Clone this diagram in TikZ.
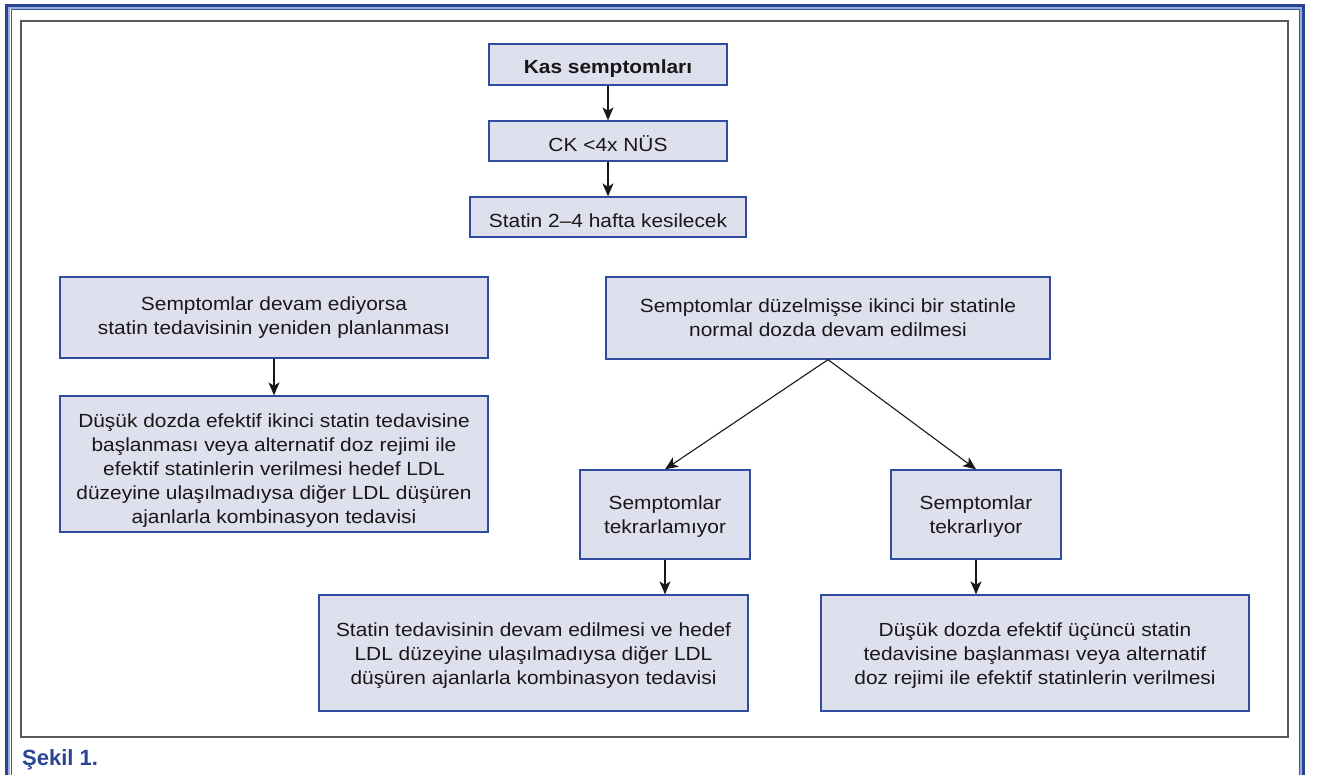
\documentclass[tikz,border=0pt]{standalone}
\usepackage{fontspec}
\setmainfont{Liberation Sans}[FakeStretch=1.1]
\newfontfamily\capfont{Liberation Sans}
\usetikzlibrary{arrows.meta}
\definecolor{boxfill}{HTML}{DFE0EE}
\definecolor{boxline}{HTML}{2F4C9E}
\definecolor{framedark}{HTML}{2A4494}
\definecolor{framelight}{HTML}{9AAEDD}
\definecolor{framethin}{HTML}{3B57A8}
\definecolor{inkgray}{HTML}{1A1718}
\definecolor{captionblue}{HTML}{2B4596}
\tikzset{
  % invisible strut that lifts the top of the text block
  texttop/.style={execute at begin node={\rule{0pt}{#1}}},
  box/.style={draw=boxline, line width=1.3pt, fill=boxfill, align=center,
    inner sep=0pt, text=inkgray, font=\fontsize{19}{24}\selectfont,
    texttop=22pt},
  flow/.style={draw=inkgray, line width=1.1pt,
    -{Stealth[length=13pt,width=11pt,inset=3.5pt]}},
}
\begin{document}
\begin{tikzpicture}[x=1pt,y=-1pt]
\useasboundingbox (0,0) rectangle (1318,775);
\fill[white] (0,0) rectangle (1318,775);

% outer double frame, open at the bottom
\draw[framedark, line width=3.5pt] (6.5,775) -- (6.5,5.5) -- (1303.5,5.5) -- (1303.5,775);
\draw[framelight, line width=1.2pt] (9,775) -- (9,8) -- (1301,8) -- (1301,775);
\draw[framethin, line width=1pt] (11,775) -- (11,10) -- (1299.5,10) -- (1299.5,775);

% inner panel
\draw[black!65, line width=1.5pt] (21,21) rectangle (1288,737);

% boxes
\node[box, minimum width=238pt, minimum height=41pt] (kas) at (608,64.5)
  {\textbf{Kas semptomları}};
\node[box, minimum width=238pt, minimum height=40pt] (ck) at (608,141)
  {CK <4x NÜS};
\node[box, minimum width=276pt, minimum height=40pt] (stop) at (608,217)
  {Statin 2–4 hafta kesilecek};
\node[box, minimum width=428pt, minimum height=81pt] (devam) at (274,317.5)
  {Semptomlar devam ediyorsa\\statin tedavisinin yeniden planlanması};
\node[box, texttop=122pt, minimum width=428pt, minimum height=136pt] (ikinci) at (274,464)
  {Düşük dozda efektif ikinci statin tedavisine\\başlanması veya alternatif doz rejimi ile\\efektif statinlerin verilmesi hedef LDL\\düzeyine ulaşılmadıysa diğer LDL düşüren\\ajanlarla kombinasyon tedavisi};
\node[box, minimum width=444pt, minimum height=82pt] (duzel) at (828,318)
  {Semptomlar düzelmişse ikinci bir statinle\\normal dozda devam edilmesi};
\node[box, texttop=42pt, minimum width=170pt, minimum height=89pt] (yok) at (665,514.5)
  {Semptomlar\\tekrarlamıyor};
\node[box, texttop=42pt, minimum width=170pt, minimum height=89pt] (var) at (976,514.5)
  {Semptomlar\\tekrarlıyor};
\node[box, texttop=68pt, minimum width=429pt, minimum height=116pt] (devamet) at (533.5,653)
  {Statin tedavisinin devam edilmesi ve hedef\\LDL düzeyine ulaşılmadıysa diğer LDL\\düşüren ajanlarla kombinasyon tedavisi};
\node[box, texttop=66pt, minimum width=428pt, minimum height=116pt] (ucuncu) at (1035,653)
  {Düşük dozda efektif üçüncü statin\\tedavisine başlanması veya alternatif\\doz rejimi ile efektif statinlerin verilmesi};

% connectors
\draw[flow] (kas) -- (ck);
\draw[flow] (ck) -- (stop);
\draw[flow] (devam) -- (ikinci);
\draw[flow] (duzel.south) -- (yok.north);
\draw[flow] (duzel.south) -- (var.north);
\draw[flow] (yok.south) -- (yok.south |- devamet.north);
\draw[flow] (var.south) -- (var.south |- ucuncu.north);

% caption
\node[anchor=base west, inner sep=0pt, text=captionblue,
  font=\capfont\fontsize{22}{24}\selectfont\bfseries] (cap) at (22,765) {Şekil 1.};
\end{tikzpicture}
\end{document}
